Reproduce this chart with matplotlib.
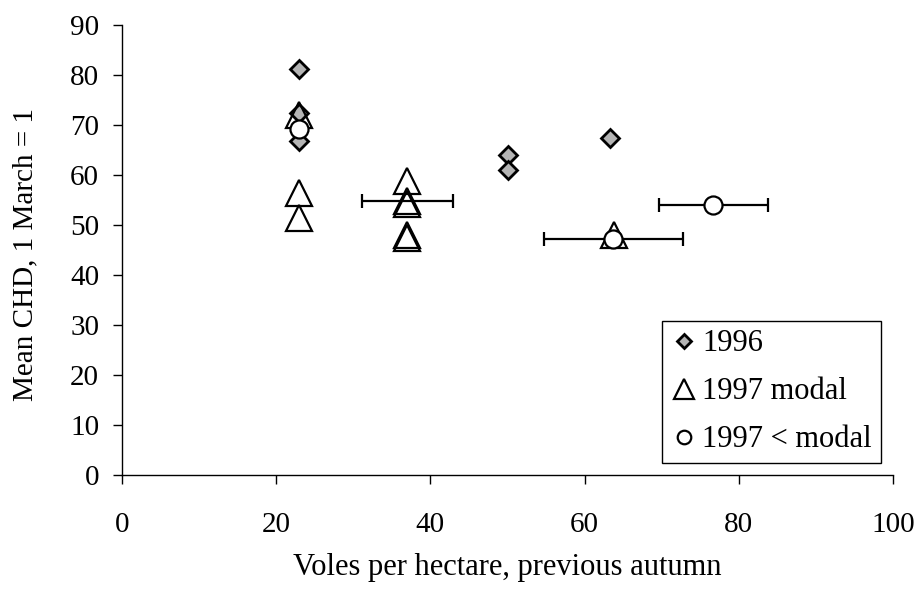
import matplotlib
matplotlib.use("Agg")
import matplotlib.pyplot as plt

plt.rcParams["font.family"] = ["Liberation Serif", "DejaVu Serif"]

# 1996 sites
voles_1996 = [23, 23, 23, 50, 50, 63.3]
chd_1996 = [81.1, 72.3, 66.7, 64.0, 60.9, 67.3]

# 1997, modal cohort
voles_1997_modal = [23, 23, 23, 37, 37, 37, 37, 37, 63.8]
chd_1997_modal = [71.9, 56.4, 51.4, 58.8, 54.7, 54.2, 48.0, 47.5, 48.0]

# 1997, below modal cohort
voles_1997_low = [23, 63.7, 76.6]
chd_1997_low = [69.1, 47.2, 54.0]

# horizontal error bars (vole density range)
bar_x = [37.0, 63.75, 76.75]
bar_y = [54.8, 47.2, 54.0]
bar_xerr = [5.9, 9.05, 7.05]

x_ticks = [0, 20, 40, 60, 80, 100]
y_ticks = [0, 10, 20, 30, 40, 50, 60, 70, 80, 90]

fig = plt.figure(figsize=(9.23, 5.92), dpi=100)
ax = fig.add_axes([0.1322, 0.1976, 0.8353, 0.7602])

ax.errorbar(bar_x, bar_y, xerr=bar_xerr, fmt="none", ecolor="black",
            elinewidth=1.6, capsize=5, capthick=1.6, zorder=2)

ax.plot(voles_1996, chd_1996, linestyle="none", marker="D", markersize=9.5,
        markerfacecolor="#b4b4b4", markeredgecolor="black", markeredgewidth=2,
        label="1996", zorder=3)
ax.plot(voles_1997_modal, chd_1997_modal, linestyle="none", marker="^", markersize=19,
        markerfacecolor="none", markeredgecolor="black", markeredgewidth=1.6,
        label="1997 modal", zorder=4)
ax.plot(voles_1997_low, chd_1997_low, linestyle="none", marker="o", markersize=13,
        markerfacecolor="white", markeredgecolor="black", markeredgewidth=1.6,
        label="1997 < modal", zorder=5)

ax.set_xlim(0, 100)
ax.set_ylim(0, 90)
ax.set_xticks(x_ticks)
ax.set_yticks(y_ticks)
ax.tick_params(labelsize=21, length=6.5, width=1, direction="out")
ax.tick_params(axis="y", pad=10)
ax.tick_params(axis="x", pad=20)
for side in ("top", "right"):
    ax.spines[side].set_visible(False)
for side in ("left", "bottom"):
    ax.spines[side].set_linewidth(1)

ax.set_xlabel("Voles per hectare, previous autumn", fontsize=22, labelpad=11)
ax.set_ylabel("Mean CHD, 1 March = 1", fontsize=21)
ax.yaxis.set_label_coords(-0.108, 0.49)

leg = ax.legend(loc="lower right", bbox_to_anchor=(0.984, 0.027), fontsize=22,
                frameon=True, fancybox=False, edgecolor="black", framealpha=1,
                handletextpad=0.15, handlelength=0.9, borderpad=0.28,
                labelspacing=0.62, borderaxespad=0, markerscale=0.75)
leg.get_frame().set_linewidth(1)

fig.savefig("out.png", dpi=100)
